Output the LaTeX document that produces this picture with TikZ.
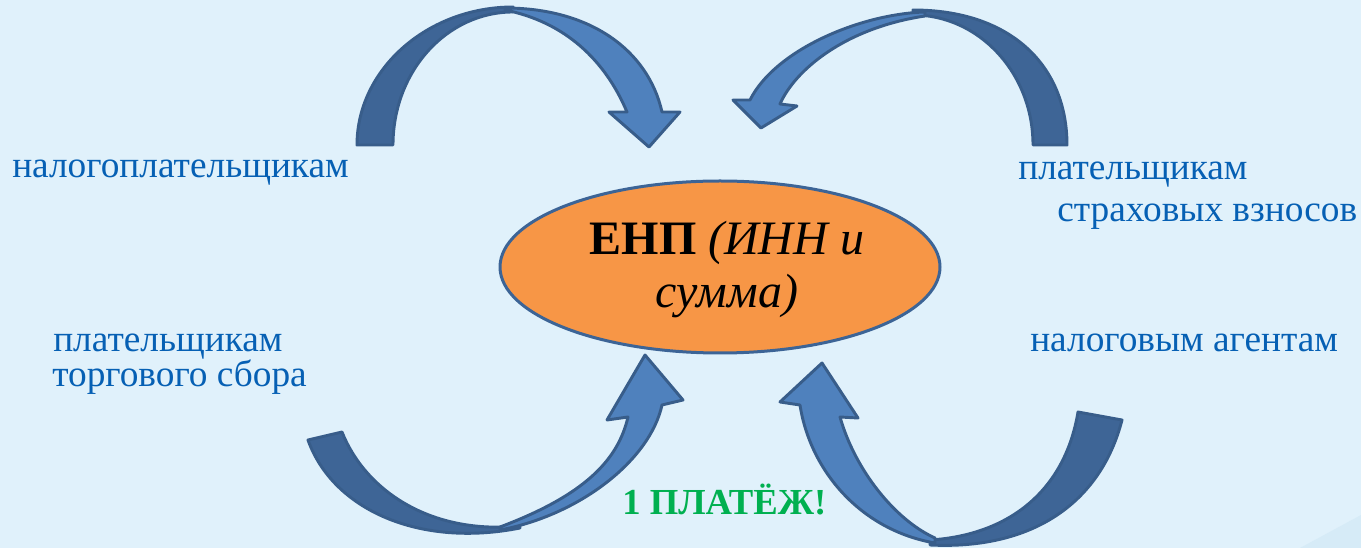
\documentclass[tikz,border=0pt]{standalone}
\usepackage{fontspec}
\setmainfont{Liberation Serif}
\usetikzlibrary{shapes.geometric}
\definecolor{bg}{RGB}{224,241,251}
\definecolor{bgc}{RGB}{214,235,247}
\definecolor{darkarr}{RGB}{62,101,150}
\definecolor{lightarr}{RGB}{79,129,189}
\definecolor{arrline}{RGB}{56,93,138}
\definecolor{ellfill}{RGB}{247,150,70}
\definecolor{ellline}{RGB}{60,100,150}
\definecolor{txtblue}{RGB}{6,96,180}
\definecolor{txtgreen}{RGB}{0,176,80}
\tikzset{
  darkpart/.style={fill=darkarr, draw=arrline, line width=2.2pt, line join=round},
  lightpart/.style={fill=lightarr, draw=arrline, line width=2.2pt, line join=round},
  lbl/.style={text=txtblue, font=\fontsize{28}{32}\selectfont, anchor=base west, inner sep=0pt},
  centertext/.style={text=black, font=\fontsize{36}{40}\selectfont, anchor=base, inner sep=0pt},
}
\begin{document}
\begin{tikzpicture}[x=0.75pt, y=-0.75pt]
\useasboundingbox (0,0) rectangle (1361,548);
\fill[bg] (0,0) rectangle (1361,548);
\fill[bgc] (1300,548) -- (1361,515) -- (1361,548) -- cycle;

% top-left arrow
\path[darkpart] (357,145) .. controls (357,69) and (428,7) .. (513,7) -- (513,12)
  .. controls (447,12) and (393,71) .. (393,145) -- cycle;
\path[lightpart] (505,8) .. controls (590,8) and (648,50) .. (662,112) -- (680,112) -- (649,147)
  -- (609,112) -- (627,112) .. controls (605,60) and (565,22) .. (505,10) -- cycle;

% top-right arrow
\path[darkpart] (1067,145) .. controls (1067,65) and (1010,10) .. (913,10) -- (913,15)
  .. controls (979,15) and (1033,73) .. (1033,145) -- cycle;
\path[lightpart] (925,12) .. controls (860,14) and (775,50) .. (750,100) -- (733,100) -- (761,128)
  -- (797,106) -- (780,104) .. controls (795,70) and (845,28) .. (925,16) -- cycle;

% bottom-left arrow
\path[darkpart] (308,440) .. controls (333,510) and (420,548) .. (520,528) -- (520,526)
  .. controls (430,535) and (365,490) .. (342,432) -- cycle;
\path[lightpart] (500,530) .. controls (580,515) and (650,460) .. (662,405) -- (683,400) -- (645,355)
  -- (607,420) -- (628,417) .. controls (618,460) and (585,495) .. (500,527) -- cycle;

% bottom-right arrow
\path[darkpart] (1122,420) .. controls (1100,505) and (1030,550) .. (930,545) -- (930,540)
  .. controls (1010,535) and (1065,490) .. (1078,412) -- cycle;
\path[lightpart] (800,405) .. controls (810,470) and (860,530) .. (935,543) -- (935,538)
  .. controls (895,520) and (855,470) .. (840,417) -- (858,418) -- (822,363) -- (780,402) -- cycle;

% central ellipse
\node[ellipse, draw=ellline, fill=ellfill, line width=2.25pt, minimum width=330pt, minimum height=129pt, inner sep=0pt] (enp) at (720,267) {};
\node[centertext] (enp1) at (727,255) {\textbf{ЕНП} \textit{(ИНН и}};
\node[centertext] (enp2) at (727,308) {\textit{сумма)}};

% labels
\node[lbl] (l1) at (12,178) {налогоплательщикам};
\node[lbl] (l2) at (53,352) {плательщикам};
\node[lbl] (l3) at (52,387) {торгового сбора};
\node[lbl] (r1) at (1018,180) {плательщикам};
\node[lbl] (r2) at (1057,222) {страховых взносов};
\node[lbl] (r3) at (1030,352) {налоговым агентам};
\node[text=txtgreen, font=\fontsize{27.5}{31}\selectfont\bfseries, anchor=base west, inner sep=0pt] (pay) at (622,515) {1 ПЛАТЁЖ!};
\end{tikzpicture}
\end{document}
